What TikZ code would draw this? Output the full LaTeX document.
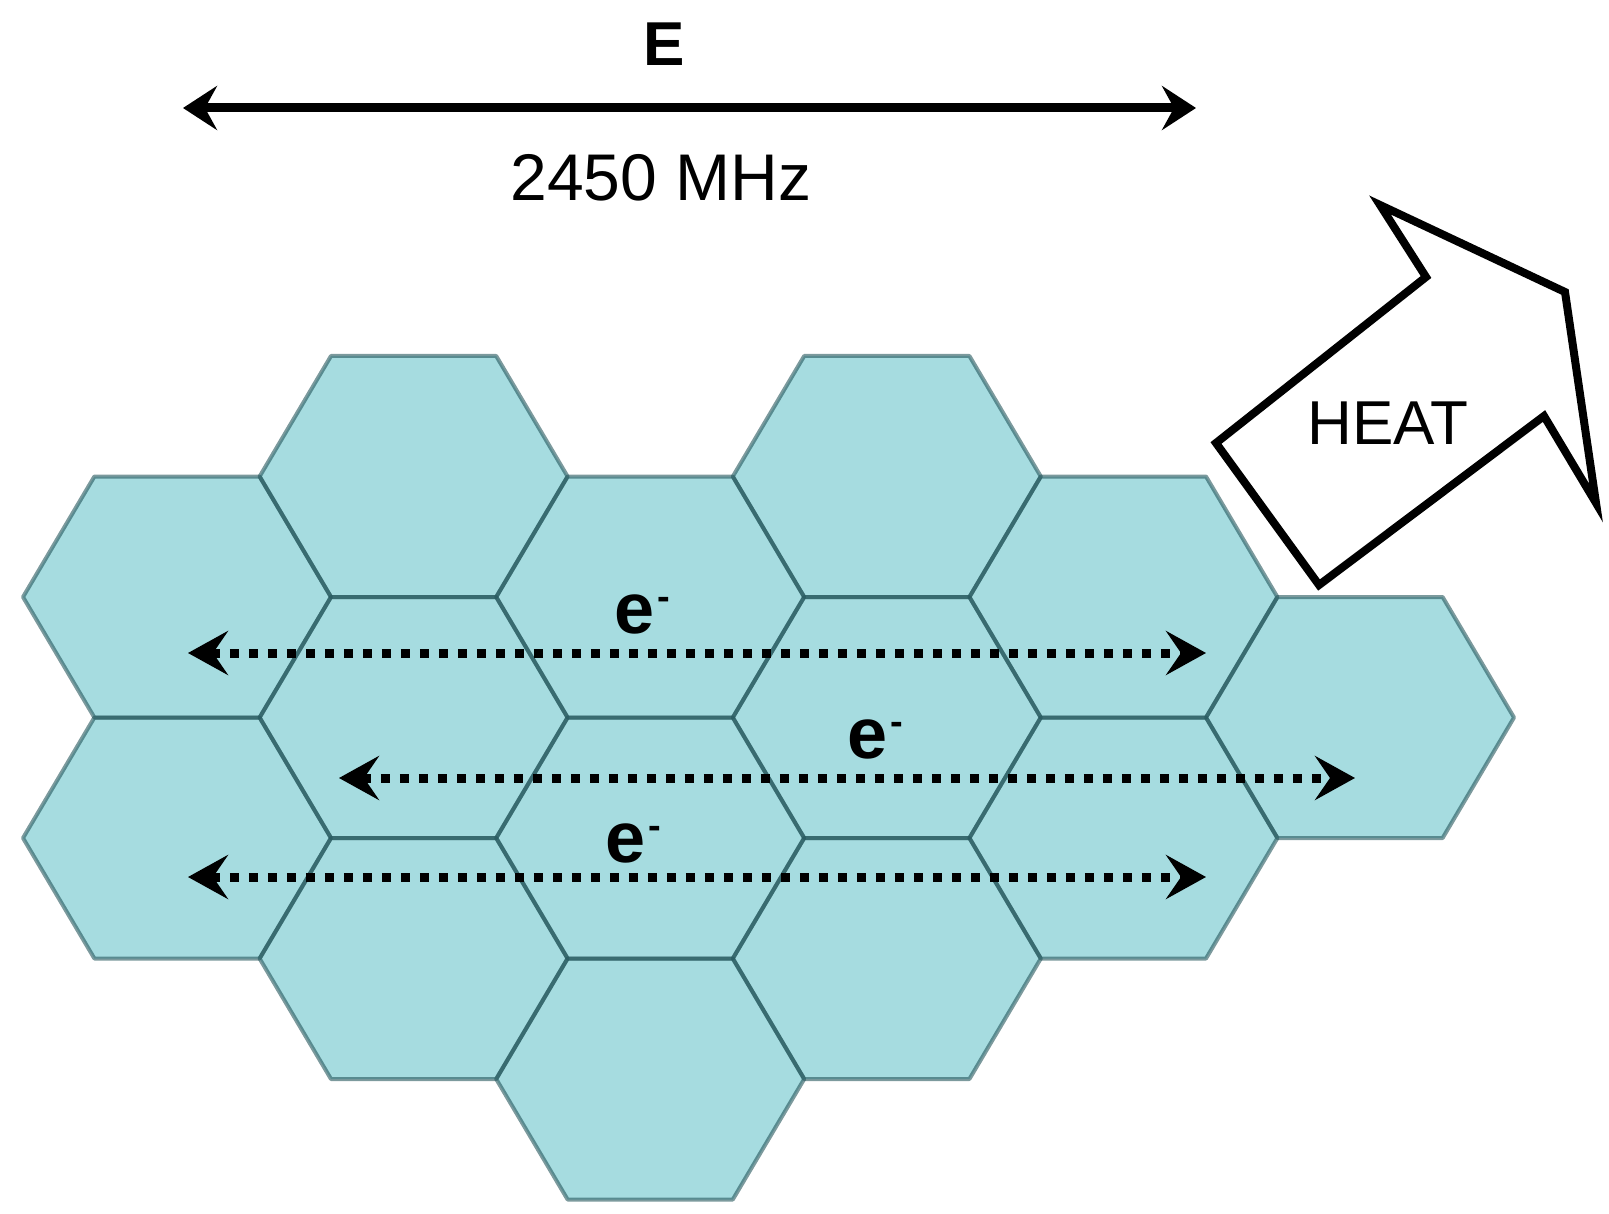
\documentclass[tikz,border=0pt]{standalone}
\usepackage{fontspec}
\setmainfont{Liberation Sans}
\usetikzlibrary{arrows.meta}
\definecolor{hexfill}{RGB}{166,220,224}
\definecolor{hexline}{RGB}{36,86,92}
\newcommand{\eminus}{e\kern3pt\raisebox{24pt}{\fontsize{38}{38}\selectfont\bfseries -}}
\begin{document}
\begin{tikzpicture}[x=1pt,y=-1pt,
  hexcell/.style={fill=hexfill},
  hexedge/.style={draw=hexline,draw opacity=0.6,line width=4pt,line join=round},
  eflow/.style={line width=9pt,dash pattern=on 9pt off 10pt,
    {Stealth[length=40pt,width=44pt,inset=15pt]}-{Stealth[length=40pt,width=44pt,inset=15pt]}},
  efield/.style={line width=9pt,
    {Stealth[length=34pt,width=44pt,inset=12pt]}-{Stealth[length=34pt,width=44pt,inset=12pt]}},
  heatbox/.style={draw=black,fill=white,line width=8pt,line join=miter},
  bigtxt/.style={font=\fontsize{64}{70}\selectfont,inner sep=0pt},
  etxt/.style={font=\fontsize{72}{76}\selectfont\bfseries,inner sep=0pt,anchor=base west}]
\useasboundingbox (0,0) rectangle (1609,1214);
\def\hexcells{177/597, 177/838,
  413.6/476.5, 413.6/717.5, 413.6/958.5,
  650.2/597, 650.2/838, 650.2/1079,
  886.8/476.5, 886.8/717.5, 886.8/958.5,
  1123.4/597, 1123.4/838,
  1360/717.5}
% fills
\foreach \cx/\cy in \hexcells {
  \fill[hexcell] (\cx,\cy) ++(-154,0) -- ++(71.4,-120.5) -- ++(165.2,0)
    -- ++(71.4,120.5) -- ++(-71.4,120.5) -- ++(-165.2,0) -- cycle;
}
% edges
\foreach \cx/\cy in \hexcells {
  \draw[hexedge] (\cx,\cy) ++(-154,0) -- ++(71.4,-120.5) -- ++(165.2,0)
    -- ++(71.4,120.5) -- ++(-71.4,120.5) -- ++(-165.2,0) -- cycle;
}
% E field arrow
\node[font=\fontsize{62}{66}\selectfont\bfseries,inner sep=0pt] (E) at (664,44) {E};
\coordinate (eL) at (183,108);
\coordinate (eR) at (1196,108);
\draw[efield] (eL) -- (eR);
\node[bigtxt,font=\fontsize{66}{70}\selectfont] (freq) at (661,178) {2450 MHz};
% HEAT arrow
\coordinate (h1) at (1216,443);
\coordinate (h2) at (1426,277);
\coordinate (h3) at (1380,205);
\coordinate (h4) at (1565,292);
\coordinate (h5) at (1596,503);
\coordinate (h6) at (1544,416);
\coordinate (h7) at (1319,585);
\draw[heatbox] (h1) -- (h2) -- (h3) -- (h4) -- (h5) -- (h6) -- (h7) -- cycle;
\node[bigtxt,font=\fontsize{62}{66}\selectfont] (heat) at (1388,423) {HEAT};
% electron flows
\coordinate (a1L) at (188,653);
\coordinate (a1R) at (1206,653);
\coordinate (a2L) at (339,778);
\coordinate (a2R) at (1355,778);
\coordinate (a3L) at (188,877);
\coordinate (a3R) at (1206,877);
\draw[eflow] (a1L) -- (a1R);
\draw[eflow] (a2L) -- (a2R);
\draw[eflow] (a3L) -- (a3R);
\node[etxt] (e1) at (614,633) {\eminus};
\node[etxt] (e2) at (847,758) {\eminus};
\node[etxt] (e3) at (605,862) {\eminus};
\end{tikzpicture}
\end{document}
